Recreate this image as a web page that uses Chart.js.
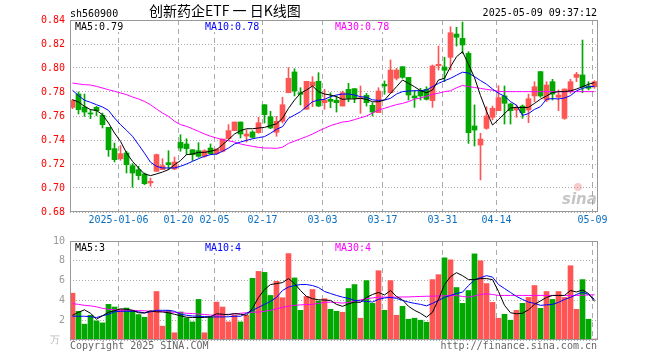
<!DOCTYPE html>
<html>
<head>
<meta charset="utf-8">
<script src="https://cdn.jsdelivr.net/npm/chart.js"></script>
<style>
  body { margin: 0; background: #fff; }
  #wrap { position: relative; width: 660px; height: 360px; overflow: hidden; font-family: 'DejaVu Sans Mono', monospace; font-size: 10px; }
  #wrap canvas { position: absolute; left: 0; }
  .txt { position: absolute; white-space: nowrap; line-height: 12px; }
</style>
</head>
<body>
<div id="wrap">
  <canvas id="kline" width="660" height="235" style="top:0"></canvas>
  <canvas id="vol" width="660" height="130" style="top:230px"></canvas>
  <div class="txt" style="left:70px;top:8px">sh560900</div>
  <div class="txt" style="left:149px;top:2px;font-family:'Noto Sans CJK SC';font-size:14px;line-height:17px">创新药企ETF 一 日K线图</div>
  <div class="txt" style="right:63px;top:7px">2025-05-09 09:37:12</div>
  <div class="txt" style="left:50px;top:334px;color:#bbb">万</div>
  <div class="txt" style="left:70px;top:340px;color:#666">Copyright 2025 SINA.COM</div>
  <div class="txt" style="right:63px;top:340px;color:#666">http://finance.sina.com.cn</div>
</div>
<script>
// daily candles, oldest first (2024-12-25 .. 2025-05-09)
const opens = [0.7672,0.7783,0.7675,0.7625,0.7672,0.7606,0.7506,0.7328,0.7244,0.7292,
  0.7186,0.7153,0.7117,0.7042,0.7139,0.7153,0.7211,0.7158,0.7380,0.7367,
  0.7319,0.7311,0.7264,0.7333,0.7286,0.7306,0.7411,0.7478,0.7550,0.7433,
  0.7467,0.7461,0.7694,0.7594,0.7464,0.7556,0.7794,0.7967,0.7794,0.7656,
  0.7850,0.7889,0.7711,0.7739,0.7731,0.7683,0.7822,0.7828,0.7744,0.7772,
  0.7689,0.7628,0.7864,0.7794,0.7914,0.8011,0.7922,0.7767,0.7811,0.7822,
  0.7728,0.8019,0.8008,0.8089,0.8283,0.8247,0.8122,0.7517,0.7358,0.7497,
  0.7589,0.7644,0.7767,0.7700,0.7650,0.7683,0.7650,0.7767,0.7970,0.7733,
  0.7886,0.7756,0.7580,0.7803,0.7922,0.7942,0.7850,0.7844];
const highs = [0.7736,0.7800,0.7783,0.7653,0.7680,0.7625,0.7506,0.7375,0.7353,0.7306,
  0.7203,0.7181,0.7125,0.7083,0.7283,0.7244,0.7311,0.7258,0.7444,0.7411,
  0.7319,0.7378,0.7319,0.7367,0.7325,0.7408,0.7528,0.7550,0.7550,0.7486,
  0.7478,0.7589,0.7694,0.7639,0.7597,0.7756,0.8003,0.7994,0.7836,0.7889,
  0.7928,0.7961,0.7822,0.7794,0.7767,0.7808,0.7872,0.7828,0.7850,0.7789,
  0.7711,0.7836,0.7892,0.8067,0.7997,0.8011,0.7922,0.7811,0.7831,0.7844,
  0.8025,0.8183,0.8089,0.8344,0.8339,0.8383,0.8136,0.7692,0.7456,0.7678,
  0.7683,0.7853,0.7850,0.7706,0.7692,0.7692,0.7783,0.7886,0.7970,0.7886,
  0.7906,0.7817,0.7825,0.7906,0.7964,0.8233,0.7886,0.7894];
const lows = [0.7661,0.7617,0.7597,0.7578,0.7603,0.7500,0.7264,0.7217,0.7231,0.7125,
  0.7006,0.7070,0.7028,0.7014,0.7139,0.7153,0.7153,0.7153,0.7306,0.7278,
  0.7228,0.7256,0.7256,0.7278,0.7278,0.7300,0.7403,0.7478,0.7417,0.7383,
  0.7417,0.7456,0.7542,0.7494,0.7431,0.7542,0.7794,0.7767,0.7692,0.7656,
  0.7678,0.7678,0.7656,0.7669,0.7633,0.7683,0.7719,0.7711,0.7622,0.7683,
  0.7600,0.7628,0.7781,0.7789,0.7900,0.7914,0.7733,0.7672,0.7733,0.7733,
  0.7672,0.7983,0.7886,0.7983,0.8183,0.8122,0.7372,0.7350,0.7067,0.7489,
  0.7567,0.7644,0.7533,0.7533,0.7589,0.7581,0.7544,0.7719,0.7756,0.7719,
  0.7733,0.7644,0.7572,0.7789,0.7886,0.7794,0.7817,0.7831];
const closes = [0.7728,0.7653,0.7633,0.7617,0.7644,0.7528,0.7319,0.7236,0.7286,0.7194,
  0.7125,0.7103,0.7036,0.7056,0.7278,0.7186,0.7194,0.7217,0.7333,0.7328,
  0.7278,0.7264,0.7311,0.7286,0.7325,0.7408,0.7478,0.7550,0.7450,0.7450,
  0.7422,0.7544,0.7611,0.7500,0.7556,0.7694,0.7914,0.7808,0.7780,0.7889,
  0.7883,0.7683,0.7733,0.7722,0.7711,0.7794,0.7747,0.7747,0.7753,0.7711,
  0.7633,0.7808,0.7850,0.7983,0.7983,0.7922,0.7775,0.7750,0.7767,0.7739,
  0.8017,0.8031,0.7981,0.8294,0.8256,0.8192,0.7461,0.7483,0.7408,0.7600,
  0.7664,0.7753,0.7706,0.7644,0.7672,0.7628,0.7744,0.7844,0.7767,0.7858,
  0.7783,0.7775,0.7825,0.7886,0.7947,0.7844,0.7831,0.7886];

const ma5 = [0.7736,0.7717,0.7680,0.7653,0.7647,0.7610,0.7542,0.7458,0.7389,0.7292,
  0.7222,0.7167,0.7117,0.7103,0.7117,0.7133,0.7153,0.7194,0.7228,0.7278,
  0.7283,0.7297,0.7297,0.7306,0.7319,0.7361,0.7403,0.7450,0.7478,0.7494,
  0.7494,0.7500,0.7505,0.7520,0.7535,0.7581,0.7664,0.7733,0.7789,0.7817,
  0.7850,0.7803,0.7783,0.7775,0.7761,0.7739,0.7742,0.7742,0.7747,0.7739,
  0.7719,0.7719,0.7733,0.7789,0.7844,0.7900,0.7872,0.7844,0.7811,0.7794,
  0.7817,0.7900,0.7914,0.8011,0.8094,0.8136,0.8030,0.7920,0.7770,0.7640,
  0.7525,0.7570,0.7620,0.7667,0.7672,0.7670,0.7672,0.7705,0.7740,0.7767,
  0.7795,0.7803,0.7803,0.7810,0.7825,0.7844,0.7865,0.7878];
const ma10 = [0.7814,0.7770,0.7731,0.7714,0.7694,0.7675,0.7647,0.7583,0.7528,0.7481,
  0.7431,0.7361,0.7290,0.7215,0.7180,0.7167,0.7167,0.7167,0.7181,0.7200,
  0.7222,0.7244,0.7264,0.7278,0.7283,0.7306,0.7333,0.7367,0.7383,0.7397,
  0.7410,0.7420,0.7428,0.7456,0.7489,0.7511,0.7581,0.7608,0.7636,0.7678,
  0.7719,0.7733,0.7739,0.7761,0.7775,0.7783,0.7783,0.7775,0.7761,0.7756,
  0.7735,0.7730,0.7733,0.7747,0.7783,0.7803,0.7808,0.7811,0.7811,0.7817,
  0.7844,0.7872,0.7894,0.7914,0.7940,0.7965,0.7958,0.7928,0.7895,0.7865,
  0.7825,0.7790,0.7765,0.7720,0.7690,0.7605,0.7620,0.7655,0.7678,0.7740,
  0.7745,0.7742,0.7750,0.7770,0.7810,0.7830,0.7844,0.7848];
const ma30 = [0.7875,0.7867,0.7861,0.7858,0.7847,0.7833,0.7819,0.7806,0.7792,0.7778,
  0.7758,0.7742,0.7722,0.7694,0.7658,0.7625,0.7597,0.7556,0.7528,0.7514,
  0.7494,0.7472,0.7450,0.7431,0.7417,0.7403,0.7394,0.7383,0.7367,0.7356,
  0.7347,0.7339,0.7333,0.7333,0.7330,0.7340,0.7372,0.7390,0.7410,0.7428,
  0.7450,0.7475,0.7497,0.7520,0.7535,0.7550,0.7555,0.7570,0.7585,0.7600,
  0.7625,0.7650,0.7664,0.7680,0.7695,0.7705,0.7720,0.7740,0.7750,0.7765,
  0.7780,0.7790,0.7803,0.7810,0.7835,0.7855,0.7845,0.7838,0.7830,0.7822,
  0.7815,0.7805,0.7803,0.7803,0.7803,0.7803,0.7803,0.7803,0.7803,0.7803,
  0.7803,0.7803,0.7803,0.7803,0.7803,0.7803,0.7803,0.7803];

// volume in 万 (10k)
const volumes = [4.73,2.9,1.6,2.5,1.93,1.73,3.6,3.33,3.1,3.23,
  3.0,2.57,2.3,2.9,4.9,1.4,3.0,0.73,2.83,2.23,
  1.83,4.1,0.73,2.33,3.83,3.33,1.83,2.5,1.83,2.5,
  6.23,6.93,6.83,4.5,5.93,4.27,8.73,6.27,3.0,4.4,
  5.1,3.93,4.17,3.1,2.9,2.8,5.2,5.6,2.2,6.0,
  3.7,7.0,3.0,6.0,2.5,3.4,2.1,2.2,2.0,1.8,
  6.1,6.6,8.3,8.1,5.3,3.7,5.0,8.7,8.0,5.7,
  3.8,2.2,2.6,2.0,3.0,3.7,4.3,5.5,3.2,4.9,
  4.1,4.9,4.3,7.5,3.1,6.1,2.1,0.1];
const volMa5 = [2.5,2.8,3.05,2.7,2.1,2.45,2.8,2.95,3.15,3.1,
  3.0,2.75,2.73,2.95,2.85,2.83,2.75,2.6,2.45,2.3,
  2.27,2.27,2.27,2.35,2.65,2.6,2.55,2.67,2.6,2.5,
  3.2,4.3,5.1,5.6,5.7,5.8,6.2,5.7,5.0,4.4,
  4.17,4.07,4.03,4.0,3.6,3.4,3.65,3.83,3.8,4.3,
  4.6,4.8,4.55,5.0,4.4,4.05,3.4,3.0,2.7,2.3,
  2.8,4.1,5.6,6.4,6.8,6.5,6.1,6.1,6.2,6.2,
  6.1,4.9,3.5,2.75,2.65,2.7,3.05,3.6,3.95,4.3,
  4.5,4.5,4.5,5.0,4.85,5.05,4.7,3.9];
const volMa10 = [2.4,2.4,2.4,2.35,2.27,2.45,2.6,2.85,2.9,2.9,
  2.9,2.85,2.73,2.85,3.0,3.0,3.0,2.9,2.6,2.5,
  2.42,2.4,2.37,2.33,2.33,2.33,2.35,2.4,2.4,2.7,
  3.0,3.3,3.6,3.9,4.3,5.0,5.35,5.5,5.6,5.6,
  5.5,5.3,4.9,4.7,4.5,4.33,4.2,4.0,3.95,3.9,
  3.83,4.1,4.25,4.3,4.2,4.0,3.83,3.7,3.6,3.45,
  3.7,4.0,4.3,4.5,4.7,4.83,5.5,6.07,6.3,6.5,
  6.35,5.6,5.2,4.8,4.4,4.1,3.83,3.7,3.5,3.55,
  3.6,3.8,4.1,4.3,4.6,4.83,4.6,4.1];
const volMa30 = [3.67,3.6,3.5,3.45,3.35,3.2,3.1,3.05,3.02,3.0,
  3.0,2.97,2.95,2.9,2.9,2.87,2.83,2.8,2.75,2.7,
  2.67,2.62,2.58,2.52,2.5,2.55,2.6,2.63,2.7,2.75,
  2.8,2.83,2.9,3.0,3.15,3.3,3.4,3.5,3.55,3.58,
  3.6,3.7,3.8,3.83,3.78,3.73,3.8,3.93,4.05,4.17,
  4.25,4.33,4.33,4.33,4.33,4.35,4.35,4.38,4.4,4.42,
  4.43,4.45,4.47,4.5,4.48,4.4,4.33,4.45,4.6,4.67,
  4.6,4.5,4.5,4.5,4.5,4.5,4.5,4.5,4.5,4.5,
  4.5,4.5,4.5,4.5,4.5,4.52,4.55,4.57];

const tickIndex = [8, 18, 24, 32, 42, 52, 62, 71, 87];
const tickLabels = ['2025-01-06', '01-20', '02-05', '02-17', '03-03', '03-17', '03-31', '04-14', '05-09'];
const priceLegend = [['MA5:0.79', '#000', 75], ['MA10:0.78', '#00f', 205], ['MA30:0.78', '#f0f', 335]];
const volLegend = [['MA5:3', '#000', 75], ['MA10:4', '#00f', 205], ['MA30:4', '#f0f', 335]];

const RED = '#ff5555';
const GREEN = '#00a800';
const idx = closes.map((c, i) => i);
const colors = idx.map(i => closes[i] >= opens[i] ? RED : GREEN);

Chart.defaults.font.family = "'DejaVu Sans Mono', monospace";
Chart.defaults.font.size = 10;

// 88 slots of 6px, candle i centred 2.5px right of its slot edge
const xMin = -2.5 / 6;
const xMax = xMin + 88;

function xAxis(showLabels) {
    return {
        type: 'linear',
        min: xMin,
        max: xMax,
        offset: false,
        afterBuildTicks: s => { s.ticks = tickIndex.map(i => ({ value: i - 1 / 3 })); },
        afterFit: s => { s.height = showLabels ? 23 : 0; },
        ticks: {
            display: showLabels,
            autoSkip: false,
            maxRotation: 0,
            minRotation: 0,
            padding: 2,
            color: '#0a6fc2',
            callback: (v, k) => tickLabels[k]
        },
        grid: { color: '#aaa', drawTicks: false, offset: false },
        border: { display: false, dash: [5, 4] }
    };
}

function line(values, color) {
    return {
        type: 'line',
        data: idx.map(i => ({ x: i, y: values[i] })),
        borderColor: color,
        borderWidth: 1,
        pointRadius: 0,
        tension: 0,
        order: 0
    };
}

const frame = {
    id: 'frame',
    afterDatasetsDraw(chart, args, opts) {
        const { ctx, chartArea: a } = chart;
        ctx.save();
        if (opts.logo) {
            ctx.fillStyle = 'rgba(235,140,140,0.45)';
            ctx.beginPath();
            ctx.arc(578, a.bottom - 25, 4, 0, Math.PI * 2);
            ctx.fill();
            ctx.font = 'italic bold 15px "DejaVu Sans"';
            ctx.fillStyle = 'rgba(150,150,150,0.55)';
            ctx.fillText('sina', 562, a.bottom - 8);
        }
        ctx.strokeStyle = '#999';
        ctx.lineWidth = 1;
        ctx.strokeRect(a.left + 0.5, a.top + 0.5, a.width - 1, a.height - 1);
        ctx.font = '10px "DejaVu Sans Mono"';
        ctx.textBaseline = 'alphabetic';
        opts.items.forEach(([t, c, x]) => {
            const w = ctx.measureText(t).width;
            ctx.fillStyle = '#fff';
            ctx.fillRect(x - 1, a.top + 1, w + 2, 11);
            ctx.fillStyle = c;
            ctx.fillText(t, x, a.top + 10);
        });
        ctx.restore();
    }
};

new Chart(document.getElementById('kline'), {
    type: 'bar',
    data: {
        datasets: [
            line(ma5, '#000'),
            line(ma10, '#00f'),
            line(ma30, '#f0f'),
            {
                data: idx.map(i => ({ x: i, y: [opens[i], closes[i]] })),
                backgroundColor: colors,
                barThickness: 5,
                minBarLength: 1,
                grouped: false,
                order: 1
            },
            {
                data: idx.map(i => ({ x: i, y: [lows[i], highs[i]] })),
                backgroundColor: colors,
                barThickness: 1,
                grouped: false,
                order: 2
            }
        ]
    },
    options: {
        responsive: false,
        animation: false,
        devicePixelRatio: 1,
        layout: { padding: { left: 0, right: 62, top: 20, bottom: 0 } },
        scales: {
            x: xAxis(true),
            y: {
                min: 0.68,
                max: 0.84,
                beginAtZero: false,
                afterFit: s => { s.width = 70; },
                ticks: { stepSize: 0.02, padding: 5, color: '#f00', callback: v => v.toFixed(2) },
                grid: { color: '#aaa', drawTicks: false },
                border: { display: false, dash: [1, 2] }
            }
        },
        plugins: {
            legend: { display: false },
            tooltip: { enabled: false },
            frame: { items: priceLegend, logo: true }
        }
    },
    plugins: [frame]
});

new Chart(document.getElementById('vol'), {
    type: 'bar',
    data: {
        datasets: [
            line(volMa5, '#000'),
            line(volMa10, '#00f'),
            line(volMa30, '#f0f'),
            {
                data: idx.map(i => ({ x: i, y: volumes[i] })),
                backgroundColor: colors,
                barThickness: 5,
                grouped: false,
                order: 1
            }
        ]
    },
    options: {
        responsive: false,
        animation: false,
        devicePixelRatio: 1,
        layout: { padding: { left: 0, right: 62, top: 10, bottom: 20 } },
        scales: {
            x: xAxis(false),
            y: {
                min: 0,
                max: 10,
                afterFit: s => { s.width = 70; },
                ticks: { stepSize: 2, padding: 5, color: '#999', callback: v => v === 0 ? '' : v },
                grid: { color: '#aaa', drawTicks: false },
                border: { display: false, dash: [1, 2] }
            }
        },
        plugins: {
            legend: { display: false },
            tooltip: { enabled: false },
            frame: { items: volLegend, logo: false }
        }
    },
    plugins: [frame]
});
</script>
</body>
</html>
